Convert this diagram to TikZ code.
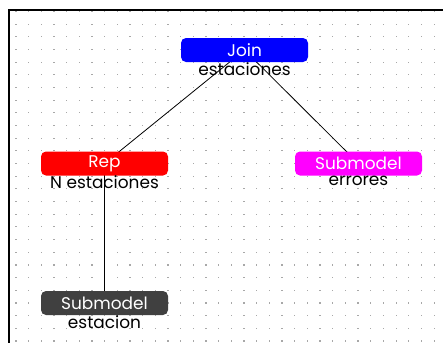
\documentclass[tikz,border=0pt]{standalone}
\usepackage{fontspec}
\setmainfont{Poppins}
\usetikzlibrary{backgrounds}
\definecolor{dotgrey}{HTML}{A8A8A8}
\definecolor{boxgrey}{HTML}{404040}
\definecolor{boxblue}{HTML}{0000FF}
\definecolor{boxred}{HTML}{FF0000}
\definecolor{boxmagenta}{HTML}{FF00FF}
\tikzset{
  blockbox/.style={rounded corners=5bp, minimum width=127bp, minimum height=24bp,
    inner sep=0pt, text=white, font=\fontsize{17}{20}\selectfont},
  sublabel/.style={anchor=north, inner sep=0pt, text=black, font=\fontsize{17}{20}\selectfont},
  link/.style={draw=black, line width=0.8bp},
  frameline/.style={draw=black, line width=2.2bp}
}
\begin{document}
\begin{tikzpicture}[x=1bp,y=-1bp]
\useasboundingbox (0,0) rectangle (443,343);
\begin{pgfonlayer}{background}
  \foreach \i in {0,...,33}{
    \foreach \j in {0,...,26}{
      \fill[dotgrey] ({16+12.67*\i-0.6},{11.5+12.67*\j-0.6}) rectangle ++(1.2,1.2);
    }
  }
\end{pgfonlayer}
\draw[frameline] (443,9.9) -- (9,9.9) -- (9,343);
% boxes
\node[blockbox, fill=boxblue] (join) at (244.5,50) {Join};
\node[blockbox, fill=boxred] (rep) at (104.5,163.5) {Rep};
\node[blockbox, fill=boxmagenta] (err) at (358.5,163.5) {Submodel};
\node[blockbox, fill=boxgrey] (est) at (104.5,303) {Submodel};
% labels
\node[sublabel] (joinlbl) at ([yshift=0bp]join.south) {estaciones};
\node[sublabel] (replbl) at ([yshift=0bp]rep.south) {N estaciones};
\node[sublabel] (errlbl) at ([yshift=0bp]err.south) {errores};
\node[sublabel] (estlbl) at ([yshift=0bp]est.south) {estacion};
\begin{pgfonlayer}{background}
  \draw[link] (join.center) -- (rep.center);
  \draw[link] (join.center) -- (err.center);
  \draw[link] (rep.center) -- (est.center);
\end{pgfonlayer}
\end{tikzpicture}
\end{document}
